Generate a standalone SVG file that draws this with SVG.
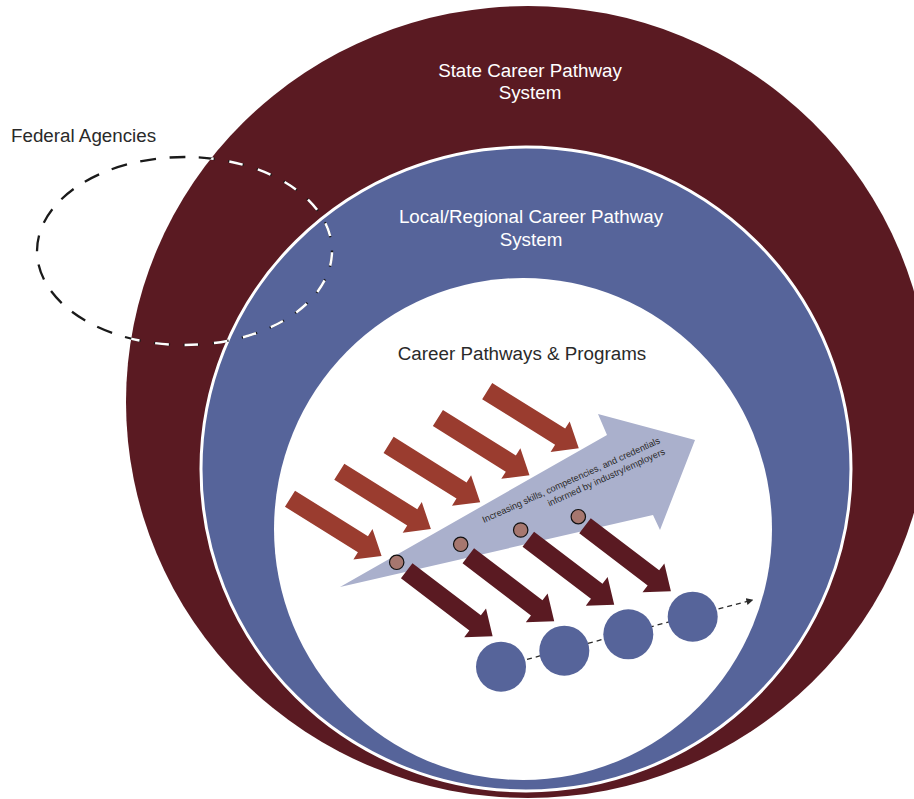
<svg xmlns="http://www.w3.org/2000/svg" width="914" height="799" viewBox="0 0 914 799">
<style>
.t{font-family:"Liberation Sans",Arial,sans-serif;font-size:18.8px;text-anchor:middle}
.w{fill:#ffffff}
.d{fill:#2a2a2a}
.s{font-family:"Liberation Sans",Arial,sans-serif;font-size:9.2px;fill:#2a2a2a;text-anchor:end}
.red{fill:#9a3c2f}
.dark{fill:#5a1a22}
.dot{fill:#a6776f;stroke:#111;stroke-width:1.2}
.big{fill:#56649a}
</style>
<defs>
<path id="arr" d="M0,-9.5 L86,-9.5 L86,-18 L108,0 L86,18 L86,9.5 L0,9.5 Z"/>
<clipPath id="outerClip"><ellipse cx="528" cy="402" rx="402" ry="396"/></clipPath>
<marker id="ah" viewBox="0 0 10 10" refX="9" refY="5" markerWidth="7" markerHeight="7" orient="auto" markerUnits="userSpaceOnUse"><path d="M0,0 L10,5 L0,10 Z" fill="#2a2a2a"/></marker>
</defs>

<g id="state-system">
<ellipse cx="528" cy="402" rx="402" ry="396" fill="#5a1a22"/>
<text class="t w" x="530" y="77">State Career Pathway</text>
<text class="t w" x="530" y="99">System</text>
</g>

<g id="local-system">
<ellipse cx="526" cy="469" rx="325" ry="322" fill="#56649a" stroke="#ffffff" stroke-width="3"/>
<text class="t w" x="531" y="223">Local/Regional Career Pathway</text>
<text class="t w" x="531" y="246">System</text>
</g>

<g id="pathways-programs">
<ellipse cx="523" cy="529" rx="249" ry="251" fill="#ffffff"/>
<text class="t d" x="522" y="360">Career Pathways &amp; Programs</text>
</g>

<g id="federal-agencies">
<text class="d" x="11" y="142" style="font-family:'Liberation Sans',Arial,sans-serif;font-size:18.8px">Federal Agencies</text>
<ellipse cx="184.5" cy="251" rx="147.5" ry="94" fill="none" stroke="#1a1a1a" stroke-width="2.3" stroke-dasharray="16 13.5"/>
<ellipse cx="184.5" cy="251" rx="147.5" ry="94" fill="none" stroke="#ffffff" stroke-width="2.5" stroke-dasharray="13.6 15.9" stroke-dashoffset="-1.2" clip-path="url(#outerClip)"/>
</g>

<g id="input-arrows">
<use href="#arr" class="red" transform="translate(290,498.7) rotate(32)"/>
<use href="#arr" class="red" transform="translate(339.3,471.8) rotate(32)"/>
<use href="#arr" class="red" transform="translate(388.6,444.9) rotate(32)"/>
<use href="#arr" class="red" transform="translate(437.9,418) rotate(32)"/>
<use href="#arr" class="red" transform="translate(487.2,391.1) rotate(32)"/>
</g>

<g id="skills-arrow">
<polygon points="340,587 607,435 598,414 695,440 660,530 653,515" fill="#aab0cc"/>
<g transform="translate(484,523) rotate(-24.4)">
<text class="s" x="194" y="0">Increasing skills, competencies, and credentials</text>
<text class="s" x="194" y="12">informed by industry/employers</text>
</g>
</g>

<g id="output-arrows">
<use href="#arr" class="dark" transform="translate(406.7,570.8) rotate(37.3)"/>
<use href="#arr" class="dark" transform="translate(468.3,555.8) rotate(37.3)"/>
<use href="#arr" class="dark" transform="translate(528.3,539.2) rotate(37.3)"/>
<use href="#arr" class="dark" transform="translate(585,525.8) rotate(37.3)"/>
</g>

<g id="milestones">
<circle class="dot" cx="396.7" cy="562.3" r="7.2"/>
<circle class="dot" cx="460.7" cy="544.3" r="7.2"/>
<circle class="dot" cx="520.7" cy="530" r="7.2"/>
<circle class="dot" cx="578.3" cy="516.7" r="7.2"/>
</g>

<g id="connectors">
<line x1="527" y1="659.3" x2="752.7" y2="600" stroke="#2a2a2a" stroke-width="1.3" stroke-dasharray="5 4" marker-end="url(#ah)"/>
</g>

<g id="outcomes">
<circle class="big" cx="501" cy="666.7" r="25"/>
<circle class="big" cx="564.3" cy="650.7" r="25"/>
<circle class="big" cx="628.3" cy="634.3" r="25"/>
<circle class="big" cx="692.7" cy="616.7" r="25"/>
</g>
</svg>
